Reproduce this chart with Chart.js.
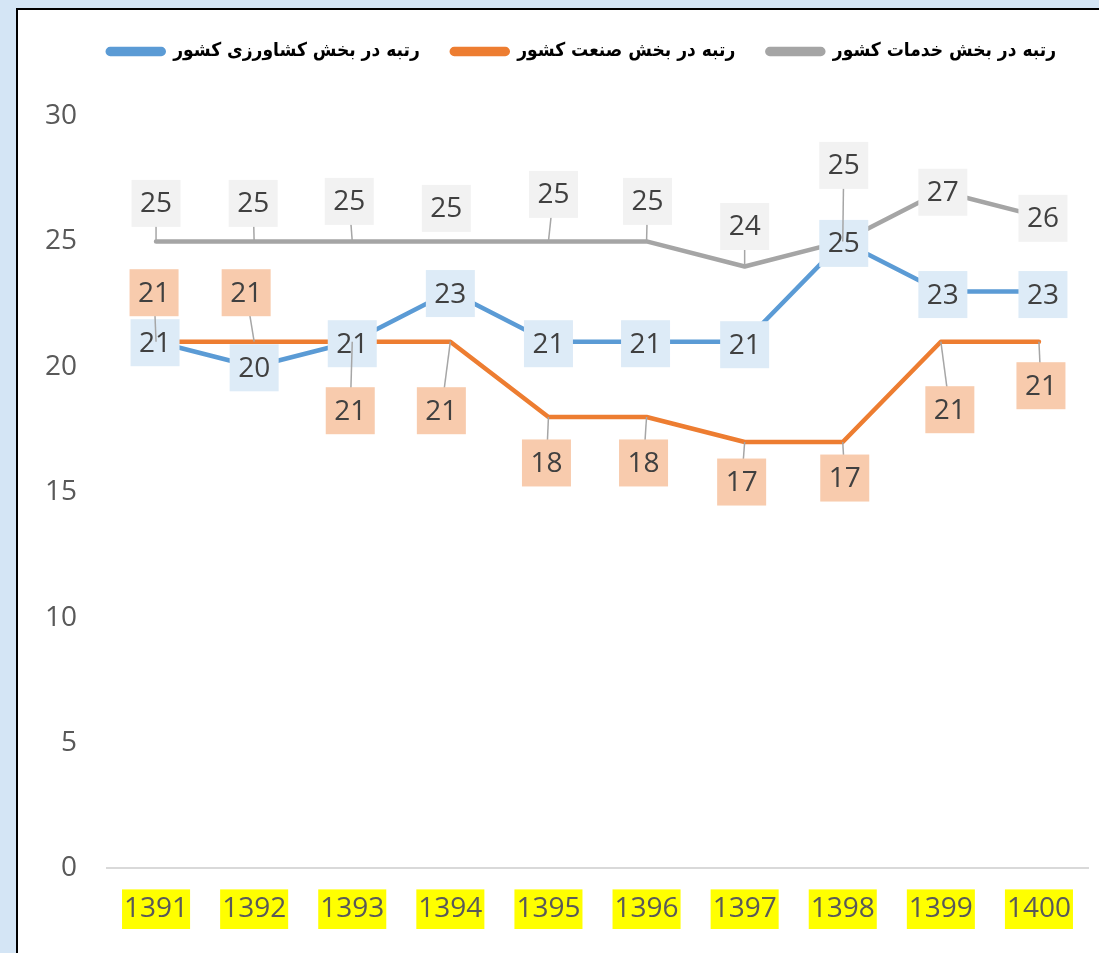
<!DOCTYPE html>
<html>
<head>
<meta charset="utf-8">
<script src="https://cdn.jsdelivr.net/npm/chart.js@4.4.0/dist/chart.umd.min.js"></script>
<style>
  body {
    margin: 0;
    background-color: #d4e5f5;
    background-image:
      repeating-linear-gradient(35deg, rgba(255,255,255,0.35) 0 2px, transparent 2px 6px),
      repeating-linear-gradient(-50deg, rgba(170,200,230,0.35) 0 1px, transparent 1px 5px);
    overflow: hidden;
  }
  #frame {
    position: absolute;
    left: 16px;
    top: 8px;
    width: 1100px;
    height: 960px;
    background: #fff;
    border-left: 2px solid #000;
    border-top: 2px solid #000;
  }
  canvas { display: block; }
</style>
</head>
<body>
<div id="frame"><canvas id="rankChart" width="1081" height="943"></canvas></div>
<script>
// data
const years = ['1391', '1392', '1393', '1394', '1395', '1396', '1397', '1398', '1399', '1400'];
const agriRank = [21, 20, 21, 23, 21, 21, 21, 25, 23, 23];
const industryRank = [21, 21, 21, 21, 18, 18, 17, 17, 21, 21];
const servicesRank = [25, 25, 25, 25, 25, 25, 24, 25, 27, 26];
const seriesNames = ['رتبه در بخش کشاورزی کشور', 'رتبه در بخش صنعت کشور', 'رتبه در بخش خدمات کشور'];

// where each value label sits relative to its point (px)
const agriLabelShift = [[-1, 1], [0, 1], [0, 2], [0, 2], [0, 2], [-1, 2], [0, 3], [1, 2], [2, 3], [4, 3]];
const industryLabelShift = [[-2, -49], [-8, -49], [-2, 69], [-9, 69], [-2, 46], [-3, 46], [-3, 40], [2, 36], [9, 68], [2, 44]];
const servicesLabelShift = [[0, -38], [-1, -38], [-3, -40], [-4, -33], [5, -47], [1, -40], [0, -40], [1, -76], [2, 1], [4, 2]];

const valueLabels = {
  id: 'valueLabels',
  afterDatasetsDraw(chart) {
    const ctx = chart.ctx;
    ctx.save();
    chart.data.datasets.forEach((ds, i) => {
      const meta = chart.getDatasetMeta(i);
      meta.data.forEach((pt, j) => {
        const [dx, dy] = ds.labelShift[j];
        const bx = pt.x + dx, by = pt.y + dy;
        if (Math.abs(dy) > 34) {
          ctx.strokeStyle = '#a6a6a6';
          ctx.lineWidth = 1.5;
          ctx.beginPath();
          ctx.moveTo(pt.x, pt.y);
          ctx.lineTo(bx, by);
          ctx.stroke();
        }
        ctx.fillStyle = ds.labelBg;
        ctx.fillRect(bx - 24.5, by - 23.5, 49, 47);
        ctx.fillStyle = '#404040';
        ctx.font = '28px "Open Sans"';
        ctx.textAlign = 'center';
        ctx.textBaseline = 'middle';
        ctx.fillText(String(ds.data[j]), bx, by + 1);
      });
    });
    ctx.restore();
  }
};

const rankChart = new Chart(document.getElementById('rankChart'), {
  type: 'line',
  data: {
    labels: years,
    datasets: [{
      label: seriesNames[0],
      data: agriRank,
      borderColor: '#5b9bd5',
      backgroundColor: '#5b9bd5',
      labelBg: '#ddebf7',
      labelShift: agriLabelShift,
      order: 3
    }, {
      label: seriesNames[1],
      data: industryRank,
      borderColor: '#ed7d31',
      backgroundColor: '#ed7d31',
      labelBg: '#f8cbad',
      labelShift: industryLabelShift,
      order: 2
    }, {
      label: seriesNames[2],
      data: servicesRank,
      borderColor: '#a5a5a5',
      backgroundColor: '#a5a5a5',
      labelBg: '#f2f2f2',
      labelShift: servicesLabelShift,
      order: 1
    }]
  },
  options: {
    responsive: false,
    animation: false,
    layout: {
      padding: { top: 0, right: 11, bottom: 3, left: 0 }
    },
    elements: {
      line: { borderWidth: 4.5, tension: 0, borderCapStyle: 'round', borderJoinStyle: 'round' },
      point: { radius: 0, hoverRadius: 0 }
    },
    scales: {
      y: {
        min: 0,
        max: 30,
        afterFit: s => { s.width = 89; },
        border: { display: false },
        grid: { display: false, drawTicks: false },
        ticks: {
          stepSize: 5,
          padding: 30,
          color: '#595959',
          font: { family: 'Open Sans', size: 28 }
        }
      },
      x: {
        offset: true,
        border: { display: true, color: '#d9d9d9', width: 2 },
        grid: { display: false, drawTicks: false, offset: true },
        ticks: {
          padding: 24,
          color: '#595959',
          font: { family: 'Open Sans', size: 28 },
          showLabelBackdrop: true,
          backdropColor: '#ffff00',
          backdropPadding: { top: 3, bottom: 3, left: 2, right: 2 }
        }
      }
    },
    plugins: {
      tooltip: { enabled: false },
      // empty spacer between the legend and the plot
      subtitle: {
        display: true,
        text: ' ',
        position: 'top',
        weight: 500,
        font: { size: 10 },
        padding: { top: 33, bottom: 0 }
      },
      legend: {
        display: true,
        position: 'top',
        align: 'end',
        labels: {
          sort: (a, b) => a.datasetIndex - b.datasetIndex,
          boxWidth: 56,
          boxHeight: 5,
          useBorderRadius: true,
          borderRadius: 2.5,
          padding: 32,
          color: '#000',
          font: { family: 'DejaVu Sans Condensed', size: 19, weight: 'bold' }
        }
      }
    }
  },
  plugins: [valueLabels]
});
</script>
</body>
</html>
